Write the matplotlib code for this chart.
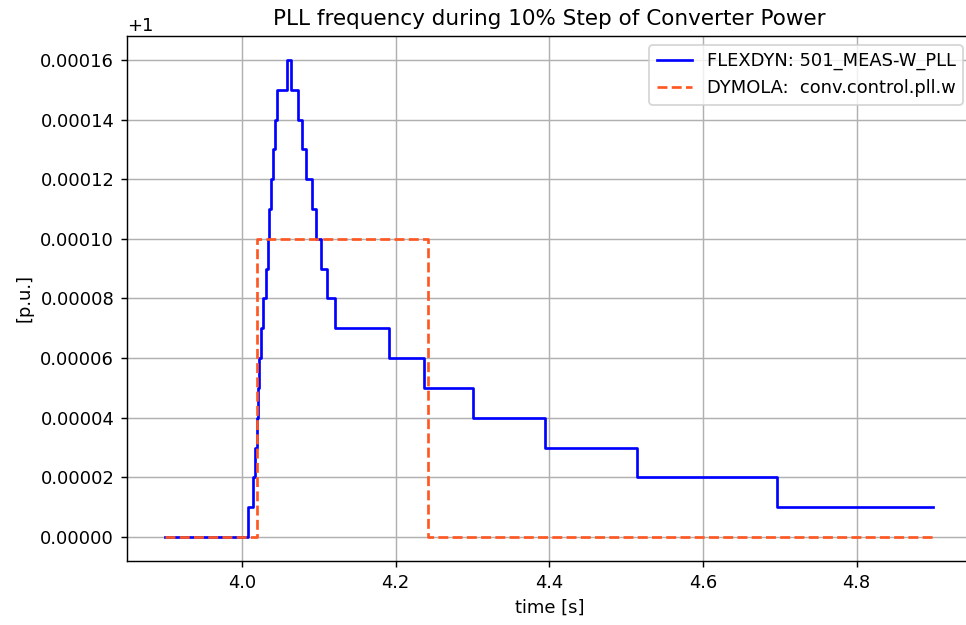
import numpy as np
import matplotlib
matplotlib.use("Agg")
import matplotlib.pyplot as plt

# FLEXDYN PLL frequency: switching instants [s] and deviation from 1 p.u. (steps-post)
flex_t = [3.9, 4.0073, 4.0138, 4.0169, 4.0191, 4.0204, 4.0225, 4.0247, 4.0278,
          4.0313, 4.0338, 4.0351, 4.0373, 4.0401, 4.0429, 4.0462, 4.0590,
          4.0634, 4.0734, 4.0786, 4.0834, 4.0916, 4.0964, 4.1030, 4.1107,
          4.1216, 4.1919, 4.2375, 4.3005, 4.3948, 4.5141, 4.6958, 4.9]
flex_dw = [0, 1e-5, 2e-5, 3e-5, 4e-5, 5e-5, 6e-5, 7e-5, 8e-5,
           9e-5, 10e-5, 11e-5, 12e-5, 13e-5, 14e-5, 15e-5, 16e-5,
           15e-5, 14e-5, 13e-5, 12e-5, 11e-5, 10e-5, 9e-5, 8e-5,
           7e-5, 6e-5, 5e-5, 4e-5, 3e-5, 2e-5, 1e-5, 1e-5]

# DYMOLA conv.control.pll.w
dym_t = [3.9, 4.0200, 4.2415, 4.9]
dym_dw = [0, 1e-4, 0, 0]

flex_w = 1 + np.array(flex_dw)
dym_w = 1 + np.array(dym_dw)

fig = plt.figure(figsize=(966 / 129, 625 / 129), dpi=129)
ax = fig.add_axes([0.1312, 0.1024, 0.8748, 0.840])

ax.step(flex_t, flex_w, where='post', color='blue', label='FLEXDYN: 501_MEAS-W_PLL')
ax.step(dym_t, dym_w, where='post', color='#ff5722', linestyle='--',
        label='DYMOLA:  conv.control.pll.w')

ax.set_title('PLL frequency during 10% Step of Converter Power')
ax.set_xlabel('time [s]')
ax.set_ylabel('[p.u.]')
ax.grid(True)
ax.legend(loc='upper right')

fig.savefig('out.png', dpi=129)
